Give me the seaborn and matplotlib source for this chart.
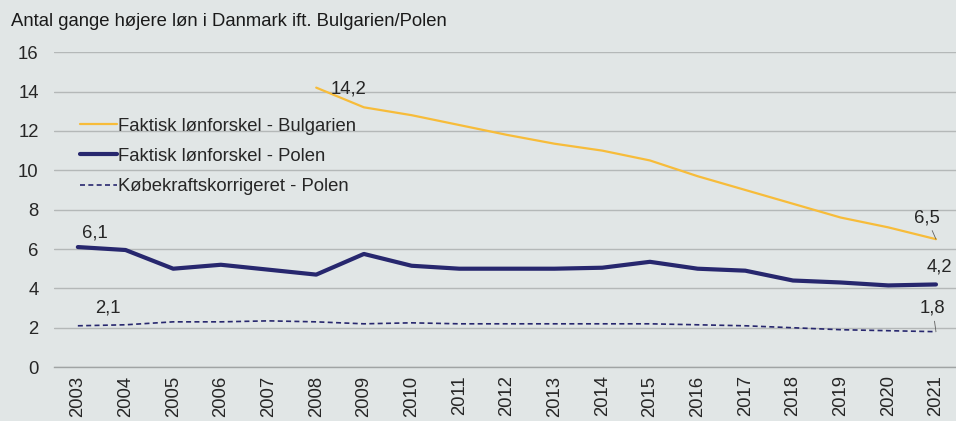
import numpy as np
import pandas as pd
import matplotlib
matplotlib.use("Agg")
import matplotlib.pyplot as plt
from matplotlib.ticker import FixedLocator
import seaborn as sns

years = list(range(2003, 2022))
bulgarien = [np.nan, np.nan, np.nan, np.nan, np.nan, 14.2, 13.2, 12.8, 12.3, 11.8,
             11.35, 11.0, 10.5, 9.7, 9.0, 8.3, 7.6, 7.1, 6.5]
polen = [6.1, 5.95, 5.0, 5.2, 4.95, 4.7, 5.75, 5.15, 5.0, 5.0,
         5.0, 5.05, 5.35, 5.0, 4.9, 4.4, 4.3, 4.15, 4.2]
polen_ppp = [2.1, 2.15, 2.3, 2.3, 2.35, 2.3, 2.2, 2.25, 2.2, 2.2,
             2.2, 2.2, 2.2, 2.15, 2.1, 2.0, 1.9, 1.85, 1.8]

title = "Antal gange højere løn i Danmark ift. Bulgarien/Polen"
labels = ["Faktisk lønforskel - Bulgarien", "Faktisk lønforskel - Polen",
          "Købekraftskorrigeret - Polen"]

bg = "#E1E6E6"
yellow = "#F7BC3A"
navy = "#27276E"
fs = 13.3

sns.set_style("white")
plt.rcParams["font.family"] = ["Liberation Sans", "DejaVu Sans"]
plt.rcParams["font.size"] = fs

df = pd.DataFrame({"year": years, "bg": bulgarien, "pl": polen, "ppp": polen_ppp})

fig = plt.figure(figsize=(9.56, 4.21), dpi=100)
fig.patch.set_facecolor(bg)
ax = fig.add_axes([0.0565, 0.128, 0.9435, 0.748])
ax.set_facecolor(bg)

sns.lineplot(data=df, x="year", y="bg", ax=ax, color=yellow, lw=1.6, label=labels[0])
sns.lineplot(data=df, x="year", y="pl", ax=ax, color=navy, lw=3.0, label=labels[1])
sns.lineplot(data=df, x="year", y="ppp", ax=ax, color=navy, lw=1.2, ls=(0, (3, 2)),
             label=labels[2])

ax.set_xlim(2002.5, 2021.42)
ax.set_ylim(0, 16)
ax.set_yticks(range(0, 17, 2))
ax.yaxis.grid(True, color="#B4B8B8", lw=1)
ax.set_axisbelow(True)
ax.set_xlabel("")
ax.set_ylabel("")

ax.set_xticks(years)
ax.set_xticklabels([str(y) for y in years], rotation=90)
ax.xaxis.set_minor_locator(FixedLocator(np.arange(2002.5, 2022, 1)))
ax.tick_params(axis="x", which="major", length=0, pad=6)
ax.tick_params(axis="x", which="minor", length=6, color="#A0A4A4", width=1)
ax.tick_params(axis="y", length=0, pad=11)

for s in ["top", "right", "left"]:
    ax.spines[s].set_visible(False)
ax.spines["bottom"].set_color("#A0A4A4")
ax.spines["bottom"].set_linewidth(1)

fig.text(0.012, 0.948, title, fontsize=fs, color="#1A1A1A", va="center")

leg = ax.legend(loc="upper left", bbox_to_anchor=(0.01, 0.845), frameon=False,
                handlelength=2.0, handletextpad=0.1, labelspacing=0.72,
                fontsize=fs)

arrow = dict(arrowstyle="-", color="#606060", lw=0.6, shrinkA=1, shrinkB=0)
ax.annotate("14,2", xy=(2008, 14.2), xytext=(2008.3, 14.15), fontsize=fs,
            ha="left", va="center")
ax.annotate("6,5", xy=(2021, 6.5), xytext=(2020.8, 7.6), fontsize=fs,
            ha="center", va="center", arrowprops=arrow)
ax.annotate("4,2", xy=(2021, 4.2), xytext=(2021.07, 5.08), fontsize=fs,
            ha="center", va="center")
ax.annotate("1,8", xy=(2021, 1.8), xytext=(2020.93, 3.0), fontsize=fs,
            ha="center", va="center", arrowprops=arrow)
ax.annotate("6,1", xy=(2003, 6.1), xytext=(2003.35, 6.8), fontsize=fs,
            ha="center", va="center")
ax.annotate("2,1", xy=(2003, 2.1), xytext=(2003.63, 3.0), fontsize=fs,
            ha="center", va="center")

fig.savefig("out.png", dpi=100, facecolor=bg)
